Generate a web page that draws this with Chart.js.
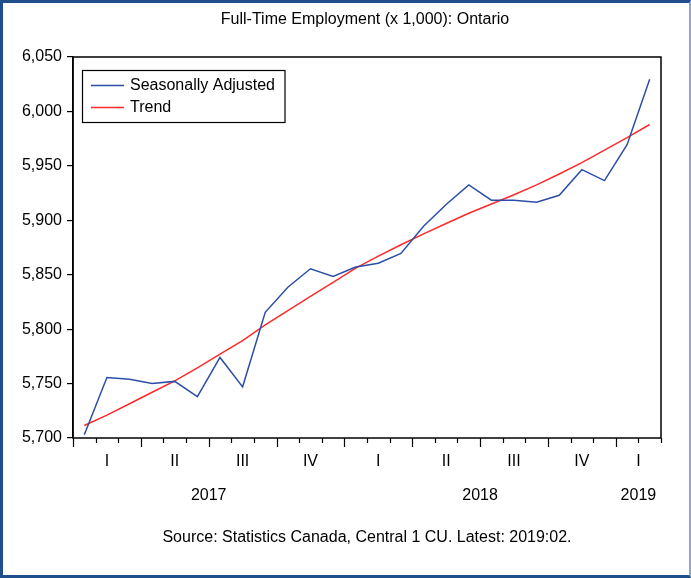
<!DOCTYPE html>
<html>
<head>
<meta charset="utf-8">
<script src="https://cdn.jsdelivr.net/npm/chart.js@4.4.1/dist/chart.umd.min.js"></script>
<style>
html,body{margin:0;padding:0;background:#fff;}
#wrap{position:relative;width:691px;height:578px;overflow:hidden;}
#c{position:absolute;left:0;top:0;}
#frame{position:absolute;left:0;top:0;width:691px;height:578px;box-sizing:border-box;
  border-top:3px solid #1F4E8C;border-left:3px solid #1F4E8C;border-bottom:3px solid #1F4E8C;border-right:2px solid #8FA8C8;pointer-events:none;}
</style>
</head>
<body>
<div id="wrap">
<canvas id="c" width="691" height="578"></canvas>
<div id="frame"></div>
</div>
<script>
const months = ['Jan 2017','Feb 2017','Mar 2017','Apr 2017','May 2017','Jun 2017','Jul 2017','Aug 2017','Sep 2017','Oct 2017','Nov 2017','Dec 2017',
  'Jan 2018','Feb 2018','Mar 2018','Apr 2018','May 2018','Jun 2018','Jul 2018','Aug 2018','Sep 2018','Oct 2018','Nov 2018','Dec 2018',
  'Jan 2019','Feb 2019'];
const seasonallyAdjusted = [5703,5755.5,5754,5750,5752,5738,5774,5747,5815.5,5838.5,5855.5,5848.5,
  5857,5860.5,5869.5,5894.5,5914.5,5932.5,5918.5,5918.5,5916.5,5923,5946.5,5936.5,
  5969.5,6029.5];
const trend = [5711.5,5721,5731.5,5742,5752.5,5764.5,5777,5789.5,5804,5817,5830,5843,
  5856,5867,5877.5,5887.5,5897,5906.5,5915,5923.5,5932.5,5942.5,5953,5964.5,
  5976,5988];
const seriesNames = ['Seasonally Adjusted', 'Trend'];
const seriesColors = ['#2B4EA8', '#FF2A2A'];
const quarterNames = ['I','II','III','IV'];
const yearNames = ['2017','2018','2019'];
const yMin = 5700, yMax = 6050, yStep = 50;
const titleText = 'Full-Time Employment (x 1,000): Ontario';
const sourceText = 'Source: Statistics Canada, Central 1 CU. Latest: 2019:02.';

const FONT = '"Liberation Sans", Arial, sans-serif';

const decor = {
  id: 'decor',
  afterDraw(chart) {
    const ctx = chart.ctx;
    const a = chart.chartArea;
    const xs = chart.scales.x;
    const n = months.length;
    const step = xs.getPixelForValue(1) - xs.getPixelForValue(0);
    const bnd = i => xs.getPixelForValue(0) - step / 2 + i * step;
    ctx.save();
    // frame
    ctx.strokeStyle = '#000';
    ctx.lineWidth = 1.5;
    ctx.strokeRect(a.left, a.top, a.right - a.left, a.bottom - a.top);
    // x tick marks
    ctx.lineWidth = 1.2;
    for (let i = 0; i <= n; i++) {
      const x = Math.round(bnd(i)) + 0.5;
      const len = (i % 3 === 0) ? 9 : 5;
      ctx.beginPath();
      ctx.moveTo(x, a.bottom);
      ctx.lineTo(x, a.bottom + len);
      ctx.stroke();
    }
    ctx.fillStyle = '#000';
    ctx.font = '16px ' + FONT;
    ctx.textAlign = 'center';
    ctx.textBaseline = 'middle';
    // quarter labels
    for (let s = 0; s < n; s += 3) {
      const e = Math.min(s + 3, n);
      const q = (s / 3) % 4;
      ctx.fillText(quarterNames[q], (bnd(s) + bnd(e)) / 2, 462);
    }
    // year labels
    for (let s = 0, y = 0; s < n; s += 12, y++) {
      const e = Math.min(s + 12, n);
      ctx.fillText(yearNames[y], (bnd(s) + bnd(e)) / 2, 496);
    }
    // title & source
    ctx.fillText(titleText, 365, 20);
    ctx.fillText(sourceText, 367, 538);
    // legend
    const lx = 82.5, ly = 70.5, lw = 202.5, lh = 52;
    ctx.strokeStyle = '#000';
    ctx.lineWidth = 1.2;
    ctx.strokeRect(lx, ly, lw, lh);
    ctx.textAlign = 'left';
    for (let k = 0; k < seriesNames.length; k++) {
      const yy = 85.5 + k * 22;
      ctx.strokeStyle = seriesColors[k];
      ctx.lineWidth = 1.5;
      ctx.beginPath();
      ctx.moveTo(91, yy);
      ctx.lineTo(124, yy);
      ctx.stroke();
      ctx.fillStyle = '#000';
      ctx.fillText(seriesNames[k], 130, yy);
    }
    ctx.restore();
  }
};

new Chart(document.getElementById('c'), {
  type: 'line',
  data: {
    labels: months,
    datasets: [
      { label: seriesNames[0], data: seasonallyAdjusted, borderColor: seriesColors[0], borderWidth: 1.5, pointRadius: 0, tension: 0 },
      { label: seriesNames[1], data: trend, borderColor: seriesColors[1], borderWidth: 1.5, pointRadius: 0, tension: 0 }
    ]
  },
  options: {
    responsive: false,
    animation: false,
    devicePixelRatio: 1,
    layout: { padding: { left: 0, top: 57, right: 30, bottom: 140 } },
    plugins: { legend: { display: false }, title: { display: false }, tooltip: { enabled: false } },
    scales: {
      x: { type: 'category', display: false, offset: true },
      y: {
        min: yMin, max: yMax,
        afterFit(s) { s.width = 73; },
        ticks: {
          stepSize: yStep,
          color: '#000',
          padding: 5,
          font: { family: FONT, size: 16 },
          callback: v => v.toLocaleString('en-US')
        },
        grid: { drawOnChartArea: false, tickLength: 6, color: '#000', lineWidth: 1.2 },
        border: { display: true, color: '#000', width: 1.5 }
      }
    }
  },
  plugins: [decor]
});
</script>
</body>
</html>
